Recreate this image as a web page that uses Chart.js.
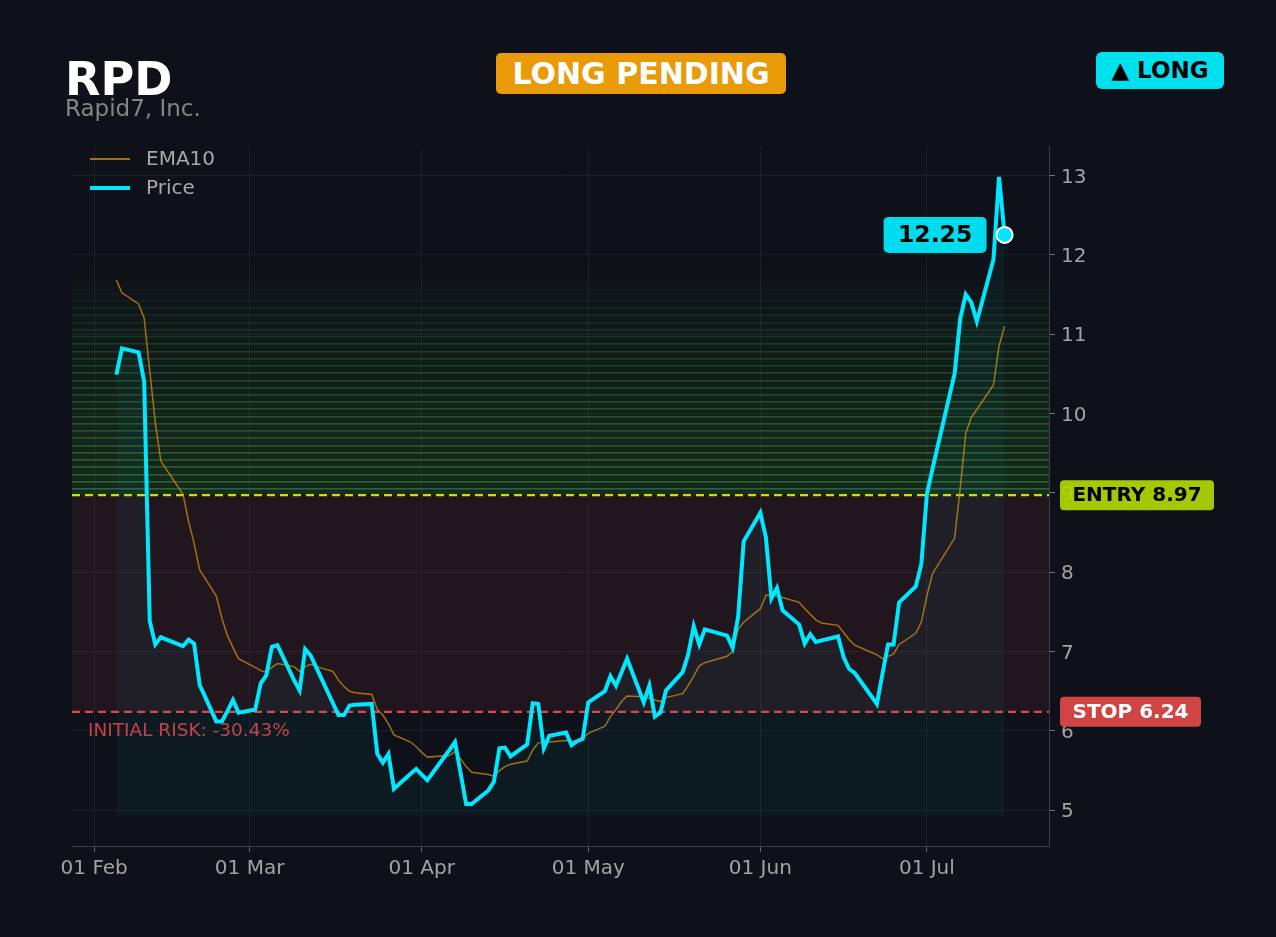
<!DOCTYPE html>
<html>
<head>
<meta charset="utf-8">
<title>RPD</title>
<script src="https://cdn.jsdelivr.net/npm/chart.js@4.4.1/dist/chart.umd.min.js"></script>
<style>
  html, body { margin: 0; padding: 0; background: #0e1119; }
  #wrap { position: relative; width: 1276px; height: 937px; overflow: hidden; font-family: "DejaVu Sans", sans-serif; }
  #chart { position: absolute; left: 0; top: 0; }
  .sym { position: absolute; left: 65px; top: 56px; font-size: 46px; line-height: 1; font-weight: bold; color: #ffffff; }
  .name { position: absolute; left: 65px; top: 97px; font-size: 23px; line-height: 1; color: #858585; }
  .status { position: absolute; left: 496px; top: 53px; width: 290px; height: 41px; border-radius: 5px; background: #e89a07;
            color: #fff; font-weight: bold; font-size: 30px; line-height: 1; display: flex; align-items: center; justify-content: center; }
  .side { position: absolute; left: 1096px; top: 52px; width: 128px; height: 37px; border-radius: 6px; background: #00e1f0;
          color: #000; font-weight: bold; font-size: 23px; line-height: 1; display: flex; align-items: center; justify-content: center; }
</style>
</head>
<body>
<div id="wrap">
  <canvas id="chart" width="1276" height="937"></canvas>
  <div class="sym">RPD</div>
  <div class="name">Rapid7, Inc.</div>
  <div class="status">LONG PENDING</div>
  <div class="side">▲ LONG</div>
</div>
<script>
// trading days (2026), price closes and EMA10
const year = 2026;
const tradeDates = [
  '02-05','02-06','02-09','02-10','02-11','02-12','02-13','02-17','02-18','02-19','02-20','02-23','02-24','02-25','02-26','02-27',
  '03-02','03-03','03-04','03-05','03-06','03-09','03-10','03-11','03-12','03-13','03-16','03-17','03-18','03-19','03-20','03-23','03-24','03-25','03-26','03-27','03-30','03-31',
  '04-01','04-02','04-06','04-07','04-08','04-09','04-10','04-13','04-14','04-15','04-16','04-17','04-20','04-21','04-22','04-23','04-24','04-27','04-28','04-29','04-30',
  '05-01','05-04','05-05','05-06','05-07','05-08','05-11','05-12','05-13','05-14','05-15','05-18','05-19','05-20','05-21','05-22','05-26','05-27','05-28','05-29',
  '06-01','06-02','06-03','06-04','06-05','06-08','06-09','06-10','06-11','06-12','06-15','06-16','06-17','06-18','06-22','06-23','06-24','06-25','06-26','06-29','06-30',
  '07-01','07-02','07-06','07-07','07-08','07-09','07-10','07-13','07-14','07-15'
];
const price = [
  10.49, 10.82, 10.77, 10.40, 7.39, 7.09, 7.18, 7.07, 7.15, 7.10, 6.58, 6.12, 6.12, 6.25, 6.39, 6.23,
  6.27, 6.60, 6.70, 7.06, 7.08, 6.64, 6.51, 7.03, 6.95, 6.80, 6.35, 6.20, 6.20, 6.32, 6.33, 6.34, 5.71, 5.60, 5.71, 5.27, 5.46, 5.52,
  5.45, 5.38, 5.76, 5.86, 5.47, 5.08, 5.08, 5.25, 5.36, 5.78, 5.79, 5.68, 5.83, 6.35, 6.34, 5.78, 5.94, 5.98, 5.82, 5.87, 5.90,
  6.36, 6.50, 6.69, 6.57, 6.74, 6.91, 6.36, 6.57, 6.18, 6.23, 6.51, 6.74, 6.96, 7.32, 7.09, 7.28, 7.20, 7.05, 7.44, 8.39,
  8.75, 8.44, 7.67, 7.80, 7.52, 7.34, 7.10, 7.22, 7.12, 7.14, 7.19, 6.93, 6.78, 6.73, 6.34, 6.72, 7.09, 7.09, 7.62, 7.82, 8.10,
  8.98, 9.30, 10.50, 11.19, 11.50, 11.40, 11.16, 11.94, 12.98, 12.25
];
const ema10 = [
  11.68, 11.52, 11.38, 11.20, 10.54, 9.89, 9.40, 8.98, 8.64, 8.36, 8.03, 7.70, 7.42, 7.20, 7.05, 6.91,
  6.80, 6.76, 6.74, 6.80, 6.85, 6.81, 6.75, 6.81, 6.84, 6.81, 6.75, 6.64, 6.56, 6.50, 6.48, 6.46, 6.27, 6.20, 6.09, 5.95, 5.86, 5.80,
  5.73, 5.67, 5.69, 5.74, 5.65, 5.55, 5.48, 5.45, 5.43, 5.50, 5.55, 5.58, 5.62, 5.76, 5.85, 5.86, 5.86, 5.88, 5.87, 5.88, 5.90,
  5.97, 6.06, 6.18, 6.27, 6.37, 6.44, 6.43, 6.41, 6.39, 6.37, 6.42, 6.47, 6.57, 6.69, 6.82, 6.86, 6.94, 7.00, 7.28, 7.37,
  7.54, 7.71, 7.71, 7.70, 7.68, 7.62, 7.54, 7.47, 7.40, 7.36, 7.33, 7.24, 7.15, 7.08, 6.96, 6.91, 6.94, 6.97, 7.09, 7.23, 7.37,
  7.70, 7.98, 8.43, 9.05, 9.75, 9.95, 10.05, 10.36, 10.85, 11.10
];
const tickDates = ['02-01', '03-01', '04-01', '05-01', '06-01', '07-01'];
const tickLabels = ['01 Feb', '01 Mar', '01 Apr', '01 May', '01 Jun', '01 Jul'];
const yTicks = [5, 6, 7, 8, 9, 10, 11, 12, 13];
const entryPrice = 8.97;
const stopPrice = 6.24;
const fillFloor = 4.93;
const xRange = [-4, 172];   // days from 01 Feb
const yRange = [4.55, 13.37];

// days since 1 Feb so the x axis is linear in calendar time
function dayOf(md) {
  const [m, d] = md.split('-').map(Number);
  return (Date.UTC(year, m - 1, d) - Date.UTC(year, 1, 1)) / 864e5;
}

const FONT = 'DejaVu Sans';

function roundRect(ctx, x, y, w, h, r) {
  ctx.beginPath();
  ctx.moveTo(x + r, y);
  ctx.arcTo(x + w, y, x + w, y + h, r);
  ctx.arcTo(x + w, y + h, x, y + h, r);
  ctx.arcTo(x, y + h, x, y, r);
  ctx.arcTo(x, y, x + w, y, r);
  ctx.closePath();
}

// risk / reward zones and the entry + stop lines
const zonePlugin = {
  id: 'zones',
  beforeDatasetsDraw(chart) {
    const { ctx, chartArea: a, scales: { y } } = chart;
    const yE = y.getPixelForValue(entryPrice);
    const yS = y.getPixelForValue(stopPrice);
    ctx.save();
    ctx.beginPath();
    ctx.rect(a.left, a.top, a.width, a.height);
    ctx.clip();

    ctx.fillStyle = 'rgba(230,80,90,0.09)';
    ctx.fillRect(a.left, yE, a.width, yS - yE);

    // green reward bands fading up towards the last price
    const last = price[price.length - 1];
    const n = 36;
    for (let i = 0; i < n; i++) {
      const p0 = y.getPixelForValue(entryPrice + (last - entryPrice) * i / n);
      const p1 = y.getPixelForValue(entryPrice + (last - entryPrice) * (i + 1) / n);
      const fb = Math.pow(Math.max(0, 1 - i / 34), 1.0);
      const fl = Math.pow(Math.max(0, 1 - i / 28), 0.6);
      ctx.fillStyle = 'rgba(70,175,50,' + (0.15 * fb) + ')';
      ctx.fillRect(a.left, p1, a.width, p0 - p1);
      ctx.fillStyle = 'rgba(70,200,70,' + (0.40 * fl) + ')';
      ctx.fillRect(a.left, Math.round(p1), a.width, 1.6);
    }

    ctx.lineWidth = 2.2;
    ctx.setLineDash([8, 5]);
    ctx.strokeStyle = '#c8e400';
    ctx.beginPath(); ctx.moveTo(a.left, yE); ctx.lineTo(a.right, yE); ctx.stroke();
    ctx.strokeStyle = '#e04646';
    ctx.beginPath(); ctx.moveTo(a.left, yS); ctx.lineTo(a.right, yS); ctx.stroke();
    ctx.restore();
  }
};

// legend, badges and risk text
const labelPlugin = {
  id: 'labels',
  afterDraw(chart) {
    const { ctx, chartArea: a, scales: { x, y } } = chart;
    ctx.save();
    ctx.textBaseline = 'middle';

    // legend (EMA10 first, then Price)
    const order = [1, 0];
    order.forEach((di, i) => {
      const ds = chart.data.datasets[di];
      const ly = a.top + 13 + i * 29;
      ctx.strokeStyle = ds.borderColor;
      ctx.lineWidth = Math.max(2, ds.borderWidth);
      ctx.setLineDash([]);
      ctx.beginPath(); ctx.moveTo(a.left + 18, ly); ctx.lineTo(a.left + 58, ly); ctx.stroke();
      ctx.fillStyle = '#a8a8a8';
      ctx.font = '20px "' + FONT + '"';
      ctx.textAlign = 'left';
      ctx.fillText(ds.label, a.left + 74, ly + 1);
    });

    const yE = y.getPixelForValue(entryPrice);
    const yS = y.getPixelForValue(stopPrice);

    // initial risk
    const risk = (stopPrice - entryPrice) / entryPrice * 100;
    ctx.fillStyle = '#c8424a';
    ctx.font = '18.5px "' + FONT + '"';
    ctx.textAlign = 'left';
    ctx.fillText('INITIAL RISK: ' + risk.toFixed(2) + '%', a.left + 16, yS + 19);

    // entry badge (slightly see-through, the 9 tick shows under it)
    ctx.font = 'bold 20px "' + FONT + '"';
    ctx.textAlign = 'center';
    ctx.fillStyle = 'rgba(178,216,0,0.92)';
    roundRect(ctx, a.right + 11, yE - 15, 154, 30, 4); ctx.fill();
    ctx.fillStyle = '#000';
    ctx.fillText('ENTRY ' + entryPrice.toFixed(2), a.right + 11 + 77, yE + 1);

    // stop badge
    ctx.fillStyle = '#d04444';
    roundRect(ctx, a.right + 11, yS - 15, 141, 30, 4); ctx.fill();
    ctx.fillStyle = '#fff';
    ctx.fillText('STOP ' + stopPrice.toFixed(2), a.right + 11 + 70.5, yS + 1);

    // last price badge
    const li = price.length - 1;
    const px = x.getPixelForValue(dayOf(tradeDates[li]));
    const py = y.getPixelForValue(price[li]);
    ctx.fillStyle = '#00dcee';
    roundRect(ctx, px - 121, py - 18, 103, 36, 5); ctx.fill();
    ctx.fillStyle = '#000';
    ctx.font = 'bold 23.5px "' + FONT + '"';
    ctx.fillText(price[li].toFixed(2), px - 121 + 51.5, py + 1);
    ctx.restore();
  }
};

const lastIdx = price.length - 1;

const chart = new Chart(document.getElementById('chart'), {
  type: 'line',
  data: {
    datasets: [
      {
        label: 'Price',
        data: tradeDates.map((d, i) => ({ x: dayOf(d), y: price[i] })),
        borderColor: '#00e8ff',
        borderWidth: 4,
        backgroundColor: 'rgba(0,229,255,0.045)',
        fill: { value: fillFloor },
        tension: 0,
        pointRadius: ctx => ctx.dataIndex === lastIdx ? 8 : 0,
        pointBackgroundColor: '#00e5ff',
        pointBorderColor: '#ffffff',
        pointBorderWidth: 2,
        order: 0
      },
      {
        label: 'EMA10',
        data: tradeDates.map((d, i) => ({ x: dayOf(d), y: ema10[i] })),
        borderColor: 'rgba(214,140,18,0.75)',
        borderWidth: 1.5,
        pointRadius: 0,
        fill: false,
        tension: 0,
        order: 1
      }
    ]
  },
  options: {
    responsive: false,
    animation: false,
    layout: { padding: { left: 72, top: 146, right: 0, bottom: 0 } },
    plugins: {
      legend: { display: false },
      tooltip: { enabled: false }
    },
    scales: {
      x: {
        type: 'linear',
        min: xRange[0],
        max: xRange[1],
        afterBuildTicks: s => { s.ticks = tickDates.map(d => ({ value: dayOf(d) })); },
        afterFit: s => { s.height = 91; },
        ticks: {
          callback: (v, i) => tickLabels[i],
          color: '#a3a3a3',
          font: { family: FONT, size: 20 },
          maxRotation: 0,
          autoSkip: false,
          padding: 5
        },
        grid: { color: 'rgba(255,255,255,0.06)', tickColor: '#666', tickLength: 6 },
        border: { color: '#3a3e46' }
      },
      y: {
        position: 'right',
        min: yRange[0],
        max: yRange[1],
        afterBuildTicks: s => { s.ticks = yTicks.map(v => ({ value: v })); },
        afterFit: s => { s.width = 227; },
        ticks: {
          color: '#a3a3a3',
          font: { family: FONT, size: 20 },
          padding: 6,
          labelOffset: 2
        },
        grid: { color: 'rgba(255,255,255,0.06)', tickColor: '#777', tickLength: 6 },
        border: { color: '#3a3e46' }
      }
    }
  },
  plugins: [zonePlugin, labelPlugin]
});
</script>
</body>
</html>
